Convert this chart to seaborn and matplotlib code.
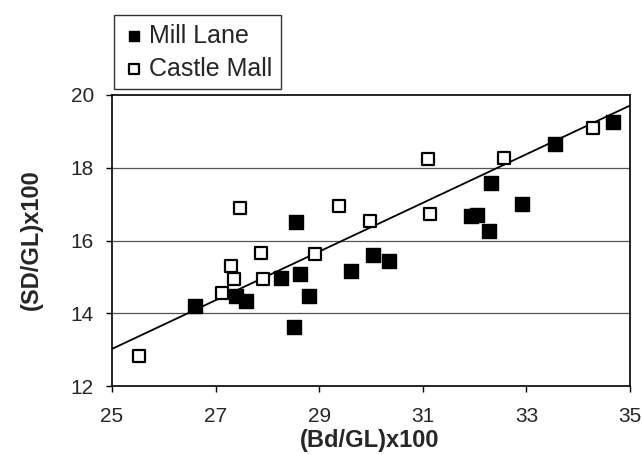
import matplotlib
matplotlib.use("Agg")
import matplotlib.pyplot as plt
import seaborn as sns
import pandas as pd

# Mill Lane (filled squares)
mill_x = [26.61, 27.40, 27.58, 28.26, 28.62, 28.55, 28.81, 28.52, 29.62, 30.04,
          30.34, 31.94, 32.05, 32.31, 32.27, 32.92, 33.55, 34.68]
mill_y = [14.21, 14.47, 14.34, 14.98, 15.09, 16.50, 14.47, 13.63, 15.17, 15.61,
          15.44, 16.66, 16.71, 17.58, 16.26, 17.01, 18.66, 19.27]

# Castle Mall (open squares)
castle_x = [25.53, 27.13, 27.29, 27.35, 27.48, 27.87, 27.91, 28.92, 29.38, 29.99,
            31.10, 31.13, 32.57, 34.29]
castle_y = [12.83, 14.56, 15.30, 14.93, 16.90, 15.66, 14.93, 15.63, 16.96, 16.53,
            18.23, 16.74, 18.26, 19.10]

# trend line
trend_x = [25, 35]
trend_y = [13.02, 19.71]

x_ticks = [25, 27, 29, 31, 33, 35]
y_ticks = [12, 14, 16, 18, 20]

mill = pd.DataFrame({"x": mill_x, "y": mill_y})
castle = pd.DataFrame({"x": castle_x, "y": castle_y})
trend = pd.DataFrame({"x": trend_x, "y": trend_y})

sns.set_theme(style="white")
plt.rcParams["font.family"] = ["Liberation Sans", "DejaVu Sans"]

W, H = 642, 455
fig = plt.figure(figsize=(W / 100, H / 100), dpi=100)
ax = fig.add_axes([112 / W, 1 - 386 / H, (630 - 112) / W, (386 - 95) / H])

# horizontal grid lines
for yv in y_ticks[1:-1]:
    ax.axhline(yv, color="#555555", lw=0.9, zorder=0)

sns.lineplot(data=trend, x="x", y="y", ax=ax, color="black", lw=1.3, zorder=2)
sns.scatterplot(data=mill, x="x", y="y", ax=ax, marker="s", s=95,
                color="black", edgecolor="black", linewidth=1.0,
                label="Mill Lane", zorder=3)
sns.scatterplot(data=castle, x="x", y="y", ax=ax, marker="s", s=80,
                facecolor="white", edgecolor="black", linewidth=1.6,
                label="Castle Mall", zorder=3)

ax.set_xlim(25, 35)
ax.set_ylim(12, 20)
ax.set_xticks(x_ticks)
ax.set_yticks(y_ticks)
ax.tick_params(axis="both", direction="out", length=4, width=1, color="black",
               labelsize=15, bottom=True, left=True)
ax.tick_params(axis="x", pad=11)
ax.tick_params(axis="y", pad=9)
for sp in ax.spines.values():
    sp.set_color("black")
    sp.set_linewidth(1.2)

ax.set_xlabel("(Bd/GL)x100", fontsize=17, fontweight="bold")
ax.set_ylabel("(SD/GL)x100", fontsize=17, fontweight="bold")
ax.xaxis.set_label_coords((370 - 112) / (630 - 112), -(440 - 386) / (386 - 95))
ax.yaxis.set_label_coords(-(112 - 31) / (630 - 112), (386 - 240) / (386 - 95))
ax.xaxis.label.set_va("center")
ax.yaxis.label.set_va("center")

handles, labels = ax.get_legend_handles_labels()
ax.get_legend().remove()
leg = fig.legend(handles, labels, loc="upper left",
                 bbox_to_anchor=(114 / W, 1 - 15 / H),
                 fontsize=18, frameon=True, fancybox=False,
                 handletextpad=0.15, handlelength=0.9, borderpad=0.35,
                 borderaxespad=0, labelspacing=0.35, markerscale=0.8)
leg.get_frame().set_edgecolor("black")
leg.get_frame().set_linewidth(1.0)

fig.savefig("out.png", dpi=100, facecolor="white")
